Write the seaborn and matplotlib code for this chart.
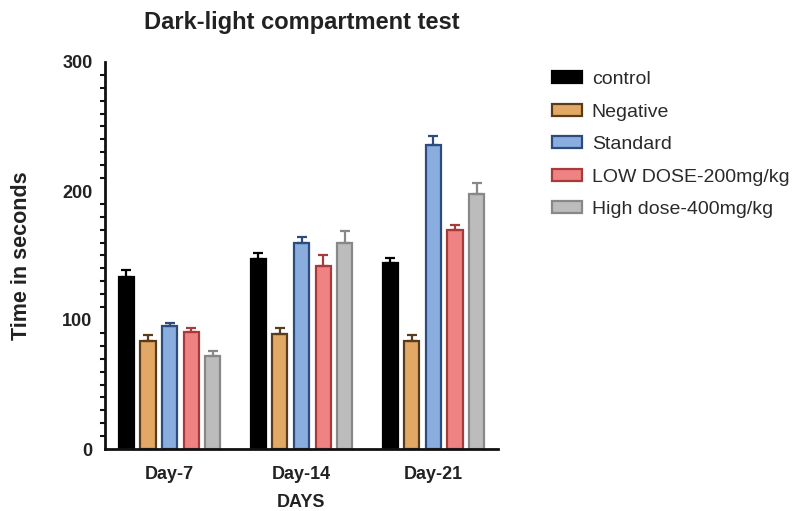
import matplotlib
matplotlib.use("Agg")
import matplotlib.pyplot as plt
from matplotlib.patches import Patch
from matplotlib.ticker import MultipleLocator
import numpy as np
import pandas as pd
import seaborn as sns

days = ["Day-7", "Day-14", "Day-21"]
groups = ["control", "Negative", "Standard", "LOW DOSE-200mg/kg", "High dose-400mg/kg"]

control = [133, 147, 144]
negative = [84, 89, 84]
standard = [95, 160, 236]
low_dose = [91, 142, 170]
high_dose = [72, 160, 198]

control_err = [6, 5, 4]
negative_err = [4, 5, 4]
standard_err = [3, 4, 7]
low_dose_err = [3, 8, 4]
high_dose_err = [4, 9, 8]

fills = ["#000000", "#e2a865", "#8aade0", "#ef8282", "#bcbcbc"]
edges = ["#000000", "#5a3b1c", "#2d4b7c", "#a83a3a", "#888888"]

values = [control, negative, standard, low_dose, high_dose]
errors = [control_err, negative_err, standard_err, low_dose_err, high_dose_err]

rows = []
for g, vals in zip(groups, values):
    for d, v in zip(days, vals):
        rows.append({"day": d, "group": g, "time": v})
df = pd.DataFrame(rows)

sns.set_style("white")
plt.rcParams["font.family"] = ["Liberation Sans", "DejaVu Sans"]

fig = plt.figure(figsize=(7.99, 5.11), dpi=100)
ax_left, ax_right, ax_bottom, ax_top = 105, 498, 449, 62
ax = fig.add_axes([ax_left / 799, 1 - ax_bottom / 511,
                   (ax_right - ax_left) / 799, (ax_bottom - ax_top) / 511])

sns.barplot(data=df, x="day", y="time", hue="group", order=days, hue_order=groups,
            palette=fills, saturation=1, width=0.82, gap=0.3, errorbar=None,
            linewidth=1.6, legend=False, ax=ax)

for cont, ec, err in zip(ax.containers, edges, errors):
    xs, tops = [], []
    for bar in cont:
        bar.set_edgecolor(ec)
        xs.append(bar.get_x() + bar.get_width() / 2)
        tops.append(bar.get_height())
    ax.errorbar(xs, tops, yerr=[np.zeros(len(err)), err], fmt="none",
                ecolor=ec, elinewidth=1.6, capsize=3.5, capthick=1.6, zorder=3)

ax.set_ylim(0, 300)
ax.set_xlim(-0.49, 2.49)
ax.yaxis.set_major_locator(MultipleLocator(100))
ax.yaxis.set_minor_locator(MultipleLocator(10))

for side in ["top", "right"]:
    ax.spines[side].set_visible(False)
for side in ["left", "bottom"]:
    ax.spines[side].set_linewidth(2)
    ax.spines[side].set_color("#111111")

ax.tick_params(axis="y", which="major", direction="out", length=7, width=2,
               color="#111111", labelsize=13, pad=2)
ax.tick_params(axis="y", which="minor", direction="out", length=3.5, width=1.5,
               color="#111111", left=True)
ax.tick_params(axis="x", which="major", direction="out", length=6.5, width=2,
               color="#111111", labelsize=13, pad=6)
for lab in ax.get_xticklabels() + ax.get_yticklabels():
    lab.set_fontweight("bold")
    lab.set_color("#222222")

ax.set_xlabel("DAYS", fontsize=13, fontweight="bold", color="#222222")
ax.set_ylabel("Time in seconds", fontsize=15.5, fontweight="bold", color="#222222")
ax.xaxis.set_label_coords(0.5, (ax_bottom - 494) / (ax_bottom - ax_top))
ax.yaxis.set_label_coords((32 - ax_left) / (ax_right - ax_left), 0.5)
ax.set_title("Dark-light compartment test", fontsize=17, fontweight="bold",
             color="#222222", pad=24)

handles = [Patch(facecolor=f, edgecolor=e, linewidth=1.6) for f, e in zip(fills, edges)]
fig.legend(handles, groups, loc="upper left", bbox_to_anchor=(552 / 799, 1 - 71 / 511),
           frameon=False, fontsize=14, handlelength=1.55, handleheight=0.55,
           handletextpad=0.5, labelspacing=0.8, borderpad=0, borderaxespad=0,
           labelcolor="#2a2a2a")

fig.savefig("out.png", dpi=100)
